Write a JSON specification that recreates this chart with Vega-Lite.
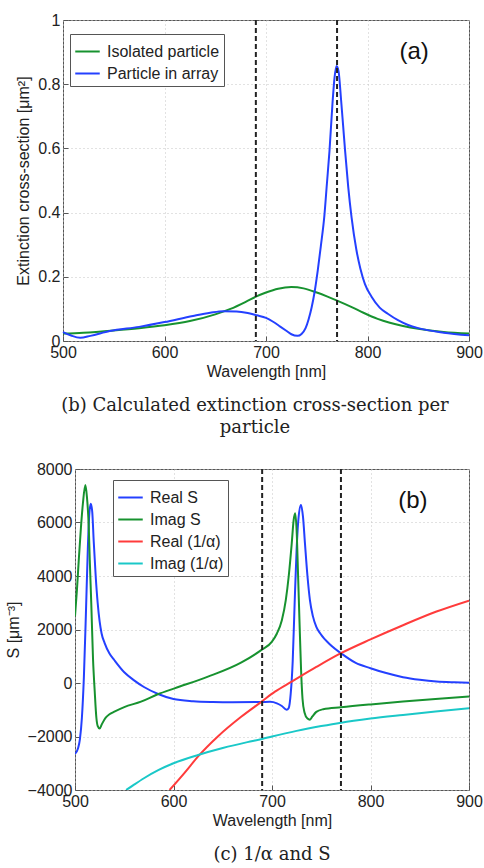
{
  "$schema": "https://vega.github.io/schema/vega-lite/v6.json",
  "background": "white",
  "padding": {"left": 4, "top": 11, "right": 0, "bottom": 0},
  "spacing": 22,
  "resolve": {
    "scale": {"color": "independent", "x": "independent", "y": "independent"},
    "legend": {"color": "independent"}
  },
  "datasets": {
    "ext": [
      {"wl": 500, "v": 0.023, "s": "Isolated particle"},
      {"wl": 520, "v": 0.026, "s": "Isolated particle"},
      {"wl": 550, "v": 0.033, "s": "Isolated particle"},
      {"wl": 575, "v": 0.040, "s": "Isolated particle"},
      {"wl": 600, "v": 0.049, "s": "Isolated particle"},
      {"wl": 625, "v": 0.062, "s": "Isolated particle"},
      {"wl": 650, "v": 0.083, "s": "Isolated particle"},
      {"wl": 665, "v": 0.100, "s": "Isolated particle"},
      {"wl": 680, "v": 0.122, "s": "Isolated particle"},
      {"wl": 690, "v": 0.138, "s": "Isolated particle"},
      {"wl": 700, "v": 0.151, "s": "Isolated particle"},
      {"wl": 712, "v": 0.163, "s": "Isolated particle"},
      {"wl": 725, "v": 0.168, "s": "Isolated particle"},
      {"wl": 737, "v": 0.164, "s": "Isolated particle"},
      {"wl": 750, "v": 0.151, "s": "Isolated particle"},
      {"wl": 760, "v": 0.139, "s": "Isolated particle"},
      {"wl": 770, "v": 0.126, "s": "Isolated particle"},
      {"wl": 785, "v": 0.105, "s": "Isolated particle"},
      {"wl": 796, "v": 0.088, "s": "Isolated particle"},
      {"wl": 810, "v": 0.069, "s": "Isolated particle"},
      {"wl": 822, "v": 0.057, "s": "Isolated particle"},
      {"wl": 835, "v": 0.047, "s": "Isolated particle"},
      {"wl": 850, "v": 0.038, "s": "Isolated particle"},
      {"wl": 875, "v": 0.028, "s": "Isolated particle"},
      {"wl": 900, "v": 0.023, "s": "Isolated particle"},
      {"wl": 500, "v": 0.028, "s": "Particle in array"},
      {"wl": 508, "v": 0.017, "s": "Particle in array"},
      {"wl": 517, "v": 0.010, "s": "Particle in array"},
      {"wl": 527, "v": 0.016, "s": "Particle in array"},
      {"wl": 546, "v": 0.031, "s": "Particle in array"},
      {"wl": 575, "v": 0.044, "s": "Particle in array"},
      {"wl": 600, "v": 0.059, "s": "Particle in array"},
      {"wl": 628, "v": 0.078, "s": "Particle in array"},
      {"wl": 645, "v": 0.088, "s": "Particle in array"},
      {"wl": 658, "v": 0.093, "s": "Particle in array"},
      {"wl": 671, "v": 0.092, "s": "Particle in array"},
      {"wl": 682, "v": 0.087, "s": "Particle in array"},
      {"wl": 691, "v": 0.080, "s": "Particle in array"},
      {"wl": 700, "v": 0.072, "s": "Particle in array"},
      {"wl": 707, "v": 0.060, "s": "Particle in array"},
      {"wl": 714, "v": 0.045, "s": "Particle in array"},
      {"wl": 720, "v": 0.032, "s": "Particle in array"},
      {"wl": 725, "v": 0.021, "s": "Particle in array"},
      {"wl": 731, "v": 0.016, "s": "Particle in array"},
      {"wl": 735, "v": 0.022, "s": "Particle in array"},
      {"wl": 739, "v": 0.040, "s": "Particle in array"},
      {"wl": 742, "v": 0.068, "s": "Particle in array"},
      {"wl": 745, "v": 0.105, "s": "Particle in array"},
      {"wl": 748, "v": 0.155, "s": "Particle in array"},
      {"wl": 751, "v": 0.220, "s": "Particle in array"},
      {"wl": 754, "v": 0.295, "s": "Particle in array"},
      {"wl": 757.5, "v": 0.390, "s": "Particle in array"},
      {"wl": 760, "v": 0.490, "s": "Particle in array"},
      {"wl": 762.5, "v": 0.590, "s": "Particle in array"},
      {"wl": 765.5, "v": 0.740, "s": "Particle in array"},
      {"wl": 767.5, "v": 0.820, "s": "Particle in array"},
      {"wl": 769.5, "v": 0.857, "s": "Particle in array"},
      {"wl": 771.5, "v": 0.840, "s": "Particle in array"},
      {"wl": 774, "v": 0.750, "s": "Particle in array"},
      {"wl": 776, "v": 0.670, "s": "Particle in array"},
      {"wl": 778, "v": 0.590, "s": "Particle in array"},
      {"wl": 781, "v": 0.480, "s": "Particle in array"},
      {"wl": 784.3, "v": 0.385, "s": "Particle in array"},
      {"wl": 789, "v": 0.285, "s": "Particle in array"},
      {"wl": 793, "v": 0.225, "s": "Particle in array"},
      {"wl": 797.5, "v": 0.177, "s": "Particle in array"},
      {"wl": 804, "v": 0.138, "s": "Particle in array"},
      {"wl": 812, "v": 0.104, "s": "Particle in array"},
      {"wl": 820, "v": 0.085, "s": "Particle in array"},
      {"wl": 830, "v": 0.065, "s": "Particle in array"},
      {"wl": 840, "v": 0.050, "s": "Particle in array"},
      {"wl": 850, "v": 0.040, "s": "Particle in array"},
      {"wl": 875, "v": 0.026, "s": "Particle in array"},
      {"wl": 900, "v": 0.018, "s": "Particle in array"}
    ],
    "sfun": [
      {"wl": 500, "v": -2650, "s": "Real S"},
      {"wl": 503, "v": -2450, "s": "Real S"},
      {"wl": 505, "v": -2100, "s": "Real S"},
      {"wl": 507, "v": -1300, "s": "Real S"},
      {"wl": 509, "v": 200, "s": "Real S"},
      {"wl": 511, "v": 2500, "s": "Real S"},
      {"wl": 513, "v": 5000, "s": "Real S"},
      {"wl": 514.5, "v": 6300, "s": "Real S"},
      {"wl": 516, "v": 6700, "s": "Real S"},
      {"wl": 517.5, "v": 6400, "s": "Real S"},
      {"wl": 519, "v": 5300, "s": "Real S"},
      {"wl": 521, "v": 4000, "s": "Real S"},
      {"wl": 523, "v": 3000, "s": "Real S"},
      {"wl": 525, "v": 2300, "s": "Real S"},
      {"wl": 527, "v": 1850, "s": "Real S"},
      {"wl": 530, "v": 1500, "s": "Real S"},
      {"wl": 535, "v": 1100, "s": "Real S"},
      {"wl": 540, "v": 850, "s": "Real S"},
      {"wl": 550, "v": 400, "s": "Real S"},
      {"wl": 560, "v": 100, "s": "Real S"},
      {"wl": 570, "v": -150, "s": "Real S"},
      {"wl": 585, "v": -420, "s": "Real S"},
      {"wl": 600, "v": -600, "s": "Real S"},
      {"wl": 620, "v": -680, "s": "Real S"},
      {"wl": 640, "v": -710, "s": "Real S"},
      {"wl": 660, "v": -720, "s": "Real S"},
      {"wl": 690, "v": -710, "s": "Real S"},
      {"wl": 698, "v": -705, "s": "Real S"},
      {"wl": 705, "v": -760, "s": "Real S"},
      {"wl": 710, "v": -860, "s": "Real S"},
      {"wl": 714.8, "v": -1000, "s": "Real S"},
      {"wl": 717, "v": -930, "s": "Real S"},
      {"wl": 719, "v": -400, "s": "Real S"},
      {"wl": 721, "v": 800, "s": "Real S"},
      {"wl": 723, "v": 3000, "s": "Real S"},
      {"wl": 725, "v": 5000, "s": "Real S"},
      {"wl": 727, "v": 6200, "s": "Real S"},
      {"wl": 729.4, "v": 6650, "s": "Real S"},
      {"wl": 731.5, "v": 6200, "s": "Real S"},
      {"wl": 733.5, "v": 5200, "s": "Real S"},
      {"wl": 736, "v": 4000, "s": "Real S"},
      {"wl": 738.5, "v": 3100, "s": "Real S"},
      {"wl": 741.5, "v": 2500, "s": "Real S"},
      {"wl": 745, "v": 2100, "s": "Real S"},
      {"wl": 749, "v": 1850, "s": "Real S"},
      {"wl": 760, "v": 1400, "s": "Real S"},
      {"wl": 770, "v": 1114, "s": "Real S"},
      {"wl": 785, "v": 750, "s": "Real S"},
      {"wl": 800, "v": 553, "s": "Real S"},
      {"wl": 815, "v": 380, "s": "Real S"},
      {"wl": 833, "v": 217, "s": "Real S"},
      {"wl": 850, "v": 120, "s": "Real S"},
      {"wl": 867, "v": 55, "s": "Real S"},
      {"wl": 885, "v": 25, "s": "Real S"},
      {"wl": 900, "v": 10, "s": "Real S"},
      {"wl": 500, "v": 2500, "s": "Imag S"},
      {"wl": 502, "v": 3500, "s": "Imag S"},
      {"wl": 504, "v": 4700, "s": "Imag S"},
      {"wl": 506, "v": 5800, "s": "Imag S"},
      {"wl": 508, "v": 6700, "s": "Imag S"},
      {"wl": 510.5, "v": 7400, "s": "Imag S"},
      {"wl": 512, "v": 7000, "s": "Imag S"},
      {"wl": 514, "v": 5800, "s": "Imag S"},
      {"wl": 515, "v": 4600, "s": "Imag S"},
      {"wl": 516.5, "v": 3000, "s": "Imag S"},
      {"wl": 518.3, "v": 900, "s": "Imag S"},
      {"wl": 520, "v": -300, "s": "Imag S"},
      {"wl": 521.7, "v": -1300, "s": "Imag S"},
      {"wl": 523, "v": -1600, "s": "Imag S"},
      {"wl": 525, "v": -1700, "s": "Imag S"},
      {"wl": 527, "v": -1560, "s": "Imag S"},
      {"wl": 531, "v": -1300, "s": "Imag S"},
      {"wl": 535, "v": -1170, "s": "Imag S"},
      {"wl": 540, "v": -1070, "s": "Imag S"},
      {"wl": 550, "v": -900, "s": "Imag S"},
      {"wl": 567, "v": -696, "s": "Imag S"},
      {"wl": 584, "v": -422, "s": "Imag S"},
      {"wl": 601, "v": -199, "s": "Imag S"},
      {"wl": 635, "v": 236, "s": "Imag S"},
      {"wl": 669, "v": 770, "s": "Imag S"},
      {"wl": 689, "v": 1230, "s": "Imag S"},
      {"wl": 700, "v": 1550, "s": "Imag S"},
      {"wl": 705, "v": 1850, "s": "Imag S"},
      {"wl": 710, "v": 2350, "s": "Imag S"},
      {"wl": 714, "v": 3100, "s": "Imag S"},
      {"wl": 717, "v": 4000, "s": "Imag S"},
      {"wl": 720, "v": 5200, "s": "Imag S"},
      {"wl": 722, "v": 6100, "s": "Imag S"},
      {"wl": 723.5, "v": 6350, "s": "Imag S"},
      {"wl": 725, "v": 5700, "s": "Imag S"},
      {"wl": 726.5, "v": 4000, "s": "Imag S"},
      {"wl": 728, "v": 2200, "s": "Imag S"},
      {"wl": 729.5, "v": 500, "s": "Imag S"},
      {"wl": 731, "v": -600, "s": "Imag S"},
      {"wl": 733, "v": -1100, "s": "Imag S"},
      {"wl": 736, "v": -1330, "s": "Imag S"},
      {"wl": 738.5, "v": -1370, "s": "Imag S"},
      {"wl": 741, "v": -1250, "s": "Imag S"},
      {"wl": 745, "v": -1080, "s": "Imag S"},
      {"wl": 752, "v": -981, "s": "Imag S"},
      {"wl": 770, "v": -906, "s": "Imag S"},
      {"wl": 800, "v": -800, "s": "Imag S"},
      {"wl": 833, "v": -696, "s": "Imag S"},
      {"wl": 866, "v": -600, "s": "Imag S"},
      {"wl": 900, "v": -509, "s": "Imag S"},
      {"wl": 596, "v": -4000, "s": "Real (1/α)"},
      {"wl": 611, "v": -3366, "s": "Real (1/α)"},
      {"wl": 625, "v": -2745, "s": "Real (1/α)"},
      {"wl": 645, "v": -2000, "s": "Real (1/α)"},
      {"wl": 669, "v": -1255, "s": "Real (1/α)"},
      {"wl": 689.5, "v": -696, "s": "Real (1/α)"},
      {"wl": 703, "v": -323, "s": "Real (1/α)"},
      {"wl": 720, "v": 52, "s": "Real (1/α)"},
      {"wl": 745, "v": 600, "s": "Real (1/α)"},
      {"wl": 770, "v": 1114, "s": "Real (1/α)"},
      {"wl": 800, "v": 1630, "s": "Real (1/α)"},
      {"wl": 833, "v": 2160, "s": "Real (1/α)"},
      {"wl": 867, "v": 2671, "s": "Real (1/α)"},
      {"wl": 900, "v": 3080, "s": "Real (1/α)"},
      {"wl": 552, "v": -4000, "s": "Imag (1/α)"},
      {"wl": 560, "v": -3800, "s": "Imag (1/α)"},
      {"wl": 570, "v": -3560, "s": "Imag (1/α)"},
      {"wl": 585, "v": -3250, "s": "Imag (1/α)"},
      {"wl": 600, "v": -3000, "s": "Imag (1/α)"},
      {"wl": 625, "v": -2690, "s": "Imag (1/α)"},
      {"wl": 650, "v": -2430, "s": "Imag (1/α)"},
      {"wl": 675, "v": -2210, "s": "Imag (1/α)"},
      {"wl": 690, "v": -2090, "s": "Imag (1/α)"},
      {"wl": 700, "v": -2000, "s": "Imag (1/α)"},
      {"wl": 725, "v": -1790, "s": "Imag (1/α)"},
      {"wl": 750, "v": -1610, "s": "Imag (1/α)"},
      {"wl": 770, "v": -1482, "s": "Imag (1/α)"},
      {"wl": 800, "v": -1330, "s": "Imag (1/α)"},
      {"wl": 833, "v": -1194, "s": "Imag (1/α)"},
      {"wl": 866, "v": -1065, "s": "Imag (1/α)"},
      {"wl": 900, "v": -943, "s": "Imag (1/α)"}
    ],
    "dashes": [{"wl": 690}, {"wl": 770}]
  },
  "vconcat": [
    {
      "width": 406,
      "height": 321,
      "title": {
        "text": ["(b) Calculated extinction cross-section per", "particle"],
        "orient": "bottom",
        "anchor": "middle",
        "frame": "group",
        "dx": -11,
        "offset": 18,
        "font": "DejaVu Serif",
        "fontSize": 18,
        "fontWeight": "normal",
        "color": "#222",
        "lineHeight": 22
      },
      "layer": [
        {
          "data": {"name": "ext"},
          "mark": {"type": "line", "strokeWidth": 2, "interpolate": "monotone"},
          "encoding": {
            "x": {"field": "wl", "type": "quantitative", "scale": {"domain": [500, 900], "nice": false, "zero": false},
                  "axis": {"title": "Wavelength [nm]", "values": [500, 600, 700, 800, 900], "format": "d"}},
            "y": {"field": "v", "type": "quantitative", "scale": {"domain": [0, 1], "nice": false, "zero": false},
                  "axis": {"title": "Extinction cross-section [μm²]", "values": [0, 0.2, 0.4, 0.6, 0.8, 1], "format": "~g", "titlePadding": 6}},
            "color": {"field": "s", "type": "nominal",
                      "scale": {"domain": ["Isolated particle", "Particle in array"], "range": ["#17922f", "#2440ff"]},
                      "legend": {"orient": "none", "legendX": 7, "legendY": 14}}
          }
        },
        {
          "data": {"name": "dashes"},
          "mark": {"type": "rule", "strokeDash": [5, 3], "strokeWidth": 2, "color": "#222"},
          "encoding": {"x": {"field": "wl", "type": "quantitative", "scale": {"domain": [500, 900], "nice": false, "zero": false}}}
        },
        {
          "data": {"values": [{"wl": 846, "v": 0.9, "t": "(a)"}]},
          "mark": {"type": "text", "fontSize": 24, "font": "Liberation Sans", "color": "#111", "align": "center", "baseline": "middle"},
          "encoding": {
            "x": {"field": "wl", "type": "quantitative", "scale": {"domain": [500, 900], "nice": false, "zero": false}},
            "y": {"field": "v", "type": "quantitative", "scale": {"domain": [0, 1], "nice": false, "zero": false}},
            "text": {"field": "t"}
          }
        }
      ]
    },
    {
      "spacing": -60,
      "resolve": {"legend": {"color": "independent"}, "scale": {"color": "independent"}},
      "hconcat": [
        {
          "width": 1,
          "height": 1,
          "view": {"stroke": null},
          "data": {"values": []},
          "mark": {"type": "point"}
        },
        {
          "width": 394,
          "height": 321,
          "title": {
            "text": "(c) 1/α and S",
            "orient": "bottom",
            "anchor": "middle",
            "frame": "group",
            "offset": 18,
            "font": "DejaVu Serif",
            "fontSize": 18,
            "fontWeight": "normal",
            "color": "#222"
          },
          "layer": [
            {
              "data": {"name": "sfun"},
              "mark": {"type": "line", "strokeWidth": 2, "interpolate": "monotone", "clip": true},
              "encoding": {
                "x": {"field": "wl", "type": "quantitative", "scale": {"domain": [500, 900], "nice": false, "zero": false},
                      "axis": {"title": "Wavelength [nm]", "values": [500, 600, 700, 800, 900], "format": "d"}},
                "y": {"field": "v", "type": "quantitative", "scale": {"domain": [-4000, 8000], "nice": false, "zero": false},
                      "axis": {"title": "S [μm⁻³]", "values": [-4000, -2000, 0, 2000, 4000, 6000, 8000], "format": "d", "titlePadding": 6}},
                "color": {"field": "s", "type": "nominal", "sort": null,
                          "scale": {"domain": ["Real S", "Imag S", "Real (1/α)", "Imag (1/α)"], "range": ["#2440ff", "#17922f", "#ff3b3b", "#1ac8c8"]},
                          "legend": {"orient": "none", "legendX": 38, "legendY": 11}}
              }
            },
            {
              "data": {"name": "dashes"},
              "mark": {"type": "rule", "strokeDash": [5, 3], "strokeWidth": 2, "color": "#222"},
              "encoding": {"x": {"field": "wl", "type": "quantitative", "scale": {"domain": [500, 900], "nice": false, "zero": false}}}
            },
            {
              "data": {"values": [{"wl": 843, "v": 6814, "t": "(b)"}]},
              "mark": {"type": "text", "fontSize": 24, "font": "Liberation Sans", "color": "#111", "align": "center", "baseline": "middle"},
              "encoding": {
                "x": {"field": "wl", "type": "quantitative", "scale": {"domain": [500, 900], "nice": false, "zero": false}},
                "y": {"field": "v", "type": "quantitative", "scale": {"domain": [-4000, 8000], "nice": false, "zero": false}},
                "text": {"field": "t"}
              }
            }
          ]
        }
      ]
    }
  ],
  "config": {
    "view": {"stroke": "#555", "strokeWidth": 1},
    "font": "Liberation Sans",
    "axis": {
      "labelFont": "Liberation Sans", "labelFontSize": 16, "labelColor": "#222", "labelFlush": false,
      "titleFont": "Liberation Sans", "titleFontSize": 16, "titleFontWeight": "normal", "titleColor": "#222",
      "domain": false, "grid": true, "gridColor": "#c4c4c4", "gridDash": [1, 3], "gridWidth": 1,
      "ticks": true, "tickSize": -5, "tickColor": "#555", "labelPadding": 8, "titlePadding": 3
    },
    "legend": {
      "title": null, "symbolType": "stroke", "symbolStrokeWidth": 2, "symbolSize": 600,
      "labelFont": "Liberation Sans", "labelFontSize": 16, "labelColor": "#222",
      "strokeColor": "#555", "fillColor": "white", "padding": 4, "rowPadding": 0, "labelOffset": 6
    }
  }
}
